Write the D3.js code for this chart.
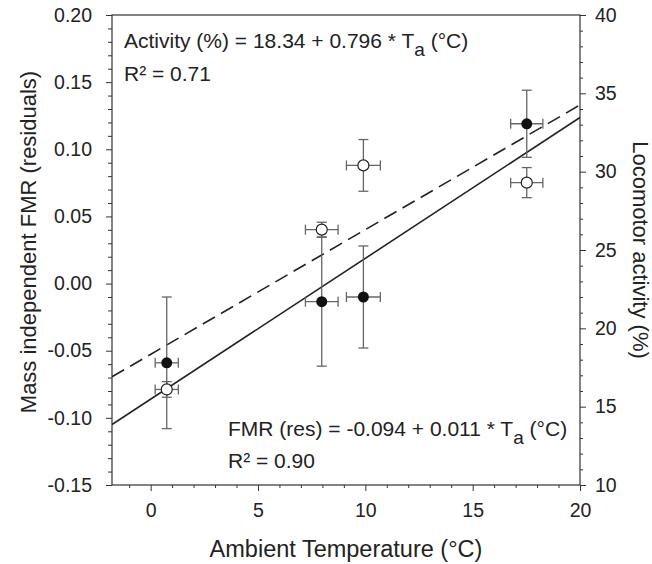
<!DOCTYPE html>
<html>
<head>
<meta charset="utf-8">
<script src="https://cdn.jsdelivr.net/npm/d3@7"></script>
<style>
  body { margin: 0; background: #fff; }
  svg text { font-family: "Liberation Sans", Arial, sans-serif; fill: #222; }
</style>
</head>
<body>
<svg id="chart" width="652" height="564"></svg>
<script>
// data
const temps = [0.75, 7.97, 9.91, 17.52];
const tempErr = [0.54, 0.76, 0.79, 0.75];
const fmrMean = [-0.059, -0.0135, -0.010, 0.119];
const fmrErr = [0.049, 0.048, 0.038, 0.025];
const activityMean = [16.1, 26.3, 30.4, 29.3];
const activityErr = [0.5, 0.47, 1.65, 0.96];

// fitted lines, [Ta, value] endpoints
const fmrFit = [[-1.8, -0.105], [20, 0.1237]];
const activityFit = [[-1.8, 18.34 - 0.796 * 1.8], [20, 18.34 + 0.796 * 20]];

const xTicks = [0, 5, 10, 15, 20];
const yLeftTicks = [-0.15, -0.10, -0.05, 0.00, 0.05, 0.10, 0.15, 0.20];
const yRightTicks = [10, 15, 20, 25, 30, 35, 40];

const M = { left: 112, right: 580, top: 15, bottom: 485 };
const FRAME = '#333';
const ERR = '#666';

const svg = d3.select('#chart');

const x = d3.scaleLinear().domain([-1.8, 20]).range([M.left, M.right]);
const yL = d3.scaleLinear().domain([-0.15, 0.20]).range([M.bottom, M.top]);
const yR = d3.scaleLinear().domain([10, 40]).range([M.bottom, M.top]);

// minor ticks
const xMinor = d3.range(-1, 21, 1).filter(v => v % 5 !== 0);
const yLMinor = d3.range(-15, 21, 1).filter(v => v % 5 !== 0).map(v => v / 100);
const yRMinor = d3.range(10, 41, 1).filter(v => v % 5 !== 0);

// plain hyphen instead of the unicode minus d3 uses
const hyph = f => d => f(d).replace('\u2212', '-');

function styleAxis(g) {
    g.select('.domain').remove();
    g.selectAll('line').attr('stroke', FRAME).attr('stroke-width', 1);
    g.selectAll('text').style('font-size', '19.5px').attr('fill', '#222');
}

// bottom
svg.append('g').attr('transform', `translate(0,${M.bottom})`)
    .call(d3.axisBottom(x).tickValues(xMinor).tickSize(3).tickFormat(''))
    .call(styleAxis);
svg.append('g').attr('transform', `translate(0,${M.bottom})`)
    .call(d3.axisBottom(x).tickValues(xTicks).tickSize(6).tickPadding(12).tickFormat(d3.format('d')))
    .call(styleAxis);

// left
svg.append('g').attr('transform', `translate(${M.left},0)`)
    .call(d3.axisLeft(yL).tickValues(yLMinor).tickSize(4).tickFormat(''))
    .call(styleAxis);
svg.append('g').attr('transform', `translate(${M.left},0)`)
    .call(d3.axisLeft(yL).tickValues(yLeftTicks).tickSize(6).tickPadding(14).tickFormat(hyph(d3.format('.2f'))))
    .call(styleAxis);

// right
svg.append('g').attr('transform', `translate(${M.right},0)`)
    .call(d3.axisRight(yR).tickValues(yRMinor).tickSize(3).tickFormat(''))
    .call(styleAxis);
svg.append('g').attr('transform', `translate(${M.right},0)`)
    .call(d3.axisRight(yR).tickValues(yRightTicks).tickSize(6).tickPadding(9).tickFormat(d3.format('d')))
    .call(styleAxis);

// frame
svg.append('rect')
    .attr('x', M.left).attr('y', M.top)
    .attr('width', M.right - M.left).attr('height', M.bottom - M.top)
    .attr('fill', 'none').attr('stroke', FRAME).attr('stroke-width', 1.2);

svg.append('clipPath').attr('id', 'plotclip').append('rect')
    .attr('x', M.left).attr('y', M.top)
    .attr('width', M.right - M.left).attr('height', M.bottom - M.top);

const plot = svg.append('g').attr('clip-path', 'url(#plotclip)');

// regression lines
plot.append('path')
    .datum(activityFit)
    .attr('d', d3.line().x(d => x(d[0])).y(d => yR(d[1])))
    .attr('fill', 'none').attr('stroke', '#222').attr('stroke-width', 1.6)
    .attr('stroke-dasharray', '14,7');
plot.append('path')
    .datum(fmrFit)
    .attr('d', d3.line().x(d => x(d[0])).y(d => yL(d[1])))
    .attr('fill', 'none').attr('stroke', '#222').attr('stroke-width', 1.6);

// error bars
function errorBars(means, errs, yScale) {
    const CAP = 5;
    temps.forEach((t, i) => {
        const cx = x(t), cy = yScale(means[i]);
        const y0 = yScale(means[i] - errs[i]), y1 = yScale(means[i] + errs[i]);
        const x0 = x(t - tempErr[i]), x1 = x(t + tempErr[i]);
        const g = plot.append('g').attr('stroke', ERR).attr('stroke-width', 1.3);
        g.append('line').attr('x1', cx).attr('x2', cx).attr('y1', y0).attr('y2', y1);
        g.append('line').attr('x1', cx - CAP).attr('x2', cx + CAP).attr('y1', y0).attr('y2', y0);
        g.append('line').attr('x1', cx - CAP).attr('x2', cx + CAP).attr('y1', y1).attr('y2', y1);
        g.append('line').attr('x1', x0).attr('x2', x1).attr('y1', cy).attr('y2', cy);
        g.append('line').attr('x1', x0).attr('x2', x0).attr('y1', cy - CAP).attr('y2', cy + CAP);
        g.append('line').attr('x1', x1).attr('x2', x1).attr('y1', cy - CAP).attr('y2', cy + CAP);
    });
}
errorBars(fmrMean, fmrErr, yL);
errorBars(activityMean, activityErr, yR);

// markers
plot.selectAll('circle.act').data(temps).join('circle')
    .attr('class', 'act')
    .attr('cx', d => x(d)).attr('cy', (d, i) => yR(activityMean[i]))
    .attr('r', 5.5).attr('fill', '#fff').attr('stroke', '#222').attr('stroke-width', 1.2);
plot.selectAll('circle.fmr').data(temps).join('circle')
    .attr('class', 'fmr')
    .attr('cx', d => x(d)).attr('cy', (d, i) => yL(fmrMean[i]))
    .attr('r', 5.5).attr('fill', '#111');

// annotations
function equation(xPos, yPos, pre) {
    const t = svg.append('text').attr('x', xPos).attr('y', yPos).style('font-size', '21px');
    t.append('tspan').text(pre + ' * T');
    t.append('tspan').attr('dy', 8).style('font-size', '19px').text('a');
    t.append('tspan').attr('dy', -8).text(' (°C)');
}
equation(124, 48, 'Activity (%) = 18.34 + 0.796');
svg.append('text').attr('x', 124).attr('y', 81).style('font-size', '21px').text('R² = 0.71');
equation(228, 436, 'FMR (res) = -0.094 + 0.011');
svg.append('text').attr('x', 228).attr('y', 468).style('font-size', '21px').text('R² = 0.90');

// axis titles
svg.append('text')
    .attr('x', (M.left + M.right) / 2).attr('y', 557)
    .attr('text-anchor', 'middle').style('font-size', '23.5px')
    .text('Ambient Temperature (°C)');
svg.append('text')
    .attr('transform', 'translate(36,242) rotate(-90)')
    .attr('text-anchor', 'middle').style('font-size', '22px')
    .text('Mass independent FMR (residuals)');
svg.append('text')
    .attr('transform', `translate(633,${(M.top + M.bottom) / 2}) rotate(90)`)
    .attr('text-anchor', 'middle').style('font-size', '22px')
    .text('Locomotor activity (%)');
</script>
</body>
</html>
